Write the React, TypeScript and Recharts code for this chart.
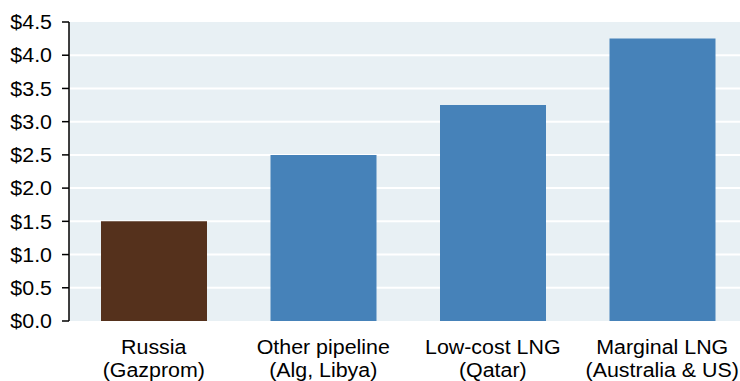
import React from 'react';
import { BarChart, Bar, XAxis, YAxis, CartesianGrid, Cell } from 'recharts';

const categoryLine1 = ['Russia', 'Other pipeline', 'Low-cost LNG', 'Marginal LNG'];
const categoryLine2 = ['(Gazprom)', '(Alg, Libya)', '(Qatar)', '(Australia & US)'];
const costValues = [1.5, 2.5, 3.25, 4.25];
const barColors = ['#55311C', '#4682B9', '#4682B9', '#4682B9'];
const yTicks = [0, 0.5, 1, 1.5, 2, 2.5, 3, 3.5, 4, 4.5];
const boundaryTicks = [0, 1, 2, 3, 4];

const data = categoryLine1.map((name, i) => ({ name, sub: categoryLine2[i], value: costValues[i] }));

const FONT = '"Liberation Sans", Arial, sans-serif';
const FS = 20;
const SX = 1.07;

const XTick = (props: any) => {
  const { x, y, payload } = props;
  const i = categoryLine1.indexOf(payload.value);
  return (
    <g transform={`translate(${x},${y}) scale(${SX},1)`}>
      <text textAnchor="middle" fontSize={FS} fontFamily={FONT} fill="#000">
        <tspan x={0} y={33}>{categoryLine1[i]}</tspan>
        <tspan x={0} y={56}>{categoryLine2[i]}</tspan>
      </text>
    </g>
  );
};

const YTick = (props: any) => {
  const { x, y, payload } = props;
  return (
    <g transform={`translate(${x},${y}) scale(${SX},1)`}>
      <text x={0} y={0} dy="0.36em" textAnchor="end" fontSize={FS} fontFamily={FONT} fill="#000">
        {`$${Number(payload.value).toFixed(1)}`}
      </text>
    </g>
  );
};

const EmptyTick = () => <g />;

export default function App() {
  return (
    <div style={{ position: 'absolute', left: 0, top: 0, width: 740, height: 381, overflow: 'hidden', background: '#fff' }}>
      <BarChart width={747} height={381} data={data} margin={{ top: 22, right: 0, bottom: 0, left: 0 }}>
        <CartesianGrid vertical={false} fill="#E8F0F4" stroke="#FFFFFF" strokeWidth={2} horizontalValues={[0.5, 1, 1.5, 2, 2.5, 3, 3.5, 4]} />
        <XAxis
          xAxisId="b"
          type="number"
          domain={[0, 4]}
          ticks={boundaryTicks}
          allowDataOverflow
          height={0}
          tickSize={7}
          tick={EmptyTick}
          stroke="#000"
          axisLine={{ stroke: '#000', strokeWidth: 1.5 }}
          tickLine={{ stroke: '#000', strokeWidth: 1.5 }}
        />
        <XAxis
          xAxisId="cat"
          dataKey="name"
          height={60}
          tickSize={0}
          tickMargin={0}
          axisLine={false}
          tickLine={false}
          tick={XTick}
          interval={0}
        />
        <YAxis
          domain={[0, 4.5]}
          ticks={yTicks}
          width={69}
          tickSize={7}
          tickMargin={10}
          tick={YTick}
          axisLine={{ stroke: '#000', strokeWidth: 1.5 }}
          tickLine={{ stroke: '#000', strokeWidth: 1.5 }}
          interval={0}
        />
        <Bar xAxisId="cat" dataKey="value" barSize={106} isAnimationActive={false}>
          {data.map((d, i) => (
            <Cell key={d.name} fill={barColors[i]} />
          ))}
        </Bar>
      </BarChart>
    </div>
  );
}
